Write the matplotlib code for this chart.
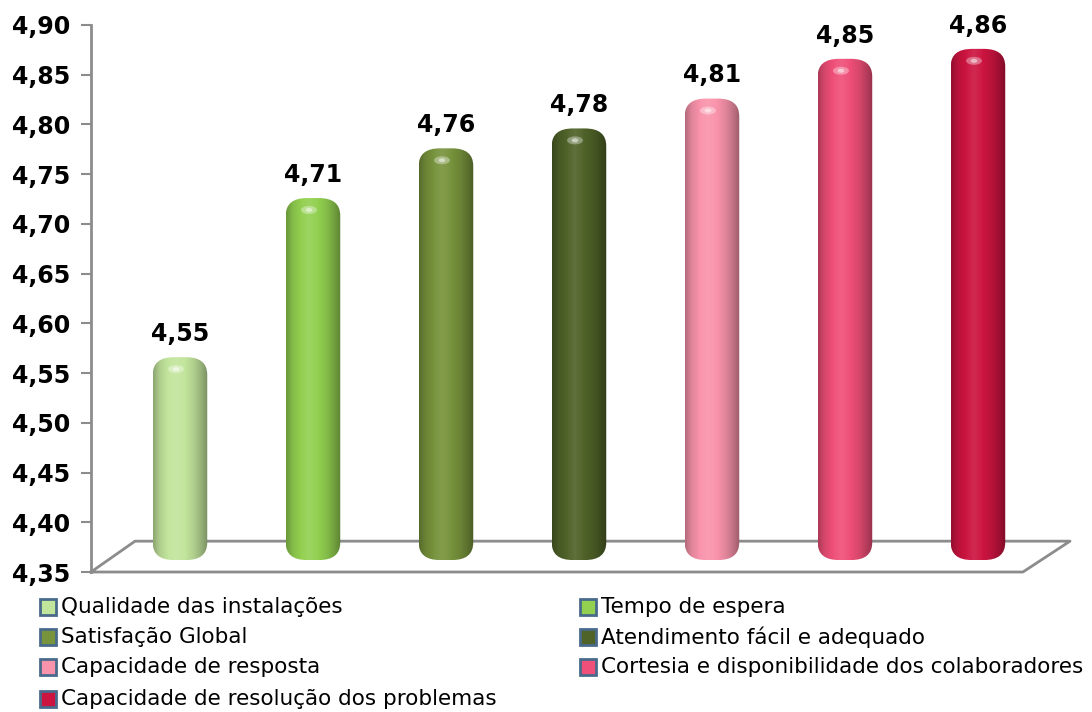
import numpy as np
import matplotlib
matplotlib.use('Agg')
import matplotlib.pyplot as plt
from matplotlib.patches import FancyBboxPatch, Rectangle, Ellipse
from matplotlib.colors import to_rgb

# data
categories = ['Qualidade das instalações', 'Tempo de espera', 'Satisfação Global',
              'Atendimento fácil e adequado', 'Capacidade de resposta',
              'Cortesia e disponibilidade dos colaboradores',
              'Capacidade de resolução dos problemas']
values = [4.55, 4.71, 4.76, 4.78, 4.81, 4.85, 4.86]
colors = ['#c2e59c', '#92d050', '#77933c', '#4f6228', '#f993ab', '#ef4f78', '#cc1440']
yticks = [4.35, 4.40, 4.45, 4.50, 4.55, 4.60, 4.65, 4.70, 4.75, 4.80, 4.85, 4.90]

W, H = 1092, 712
fig = plt.figure(figsize=(W / 100, H / 100), dpi=100)
ax = fig.add_axes([91 / W, (H - 572) / H, (1070 - 91) / W, (572 - 25) / H])
ax.set_xlim(-0.669, 6.692)
ax.set_ylim(4.35, 4.90)

grey = '#8c8c8c'
for s in ['top', 'right', 'bottom']:
    ax.spines[s].set_visible(False)
ax.spines['left'].set_color(grey)
ax.spines['left'].set_linewidth(2)
ax.set_xticks([])
ax.set_yticks(yticks)
ax.set_yticklabels([('%.2f' % v).replace('.', ',') for v in yticks],
                   fontsize=17, fontweight='bold')
ax.tick_params(axis='y', direction='out', length=7, width=1.5, color=grey, pad=8)

# floor
dy = 0.031
ax.plot([-0.669, 6.338, 6.692, -0.338, -0.669],
        [4.35, 4.35, 4.35 + dy, 4.35 + dy, 4.35],
        color=grey, lw=2, clip_on=False, zorder=1)

# cylinders
bw = 0.41
base = 4.362
pos = [0.0, 0.12, 0.3, 0.42, 0.55, 0.75, 0.9, 1.0]
shade = [0.72, 0.9, 1.02, 1.06, 1.02, 0.9, 0.75, 0.62]
xs = np.linspace(0, 1, 200)
prof = np.interp(xs, pos, shade)
for i, (v, c) in enumerate(zip(values, colors)):
    top = v + 0.016
    x0 = i - bw / 2
    patch = FancyBboxPatch((x0, base), bw, top - base,
                           boxstyle='round,pad=0,rounding_size=0.16',
                           mutation_aspect=0.11, fc='none', ec='none', zorder=3)
    ax.add_patch(patch)
    rgb = np.array(to_rgb(c))
    img = np.zeros((2, len(xs), 3))
    for k in range(len(xs)):
        f = prof[k]
        if f <= 1:
            col = rgb * f
        else:
            col = rgb + (1 - rgb) * (f - 1) * 1.5
        img[:, k] = np.clip(col, 0, 1)
    im = ax.imshow(img, extent=[x0, x0 + bw, base, top], aspect='auto',
                   interpolation='bilinear', zorder=3)
    im.set_clip_path(patch)
    # small shine on the cap
    ax.add_patch(Ellipse((i - 0.03, top - 0.012), 0.12, 0.008, fc='white',
                         ec='none', alpha=0.35, zorder=4))
    ax.add_patch(Ellipse((i - 0.03, top - 0.012), 0.05, 0.004, fc='white',
                         ec='none', alpha=0.5, zorder=4))
    ax.annotate(('%.2f' % v).replace('.', ','), (i, top), xytext=(0, 8),
                textcoords='offset points', ha='center', va='bottom',
                fontsize=17, fontweight='bold')

# legend
rows = [607, 637, 667, 699]
order = [(0, 0), (1, 0), (0, 1), (1, 1), (0, 2), (1, 2), (0, 3)]
colx = [40, 580]
for (col, row), name, c in zip(order, categories, colors):
    xp, yp = colx[col], rows[row]
    fig.add_artist(Rectangle((xp / W, (H - yp - 8) / H), 16 / W, 16 / H,
                             transform=fig.transFigure, fc=c, ec='#4a6a8c', lw=2))
    fig.text((xp + 21) / W, (H - yp) / H, name, fontsize=15.5, va='center', ha='left')

fig.savefig('out.png', dpi=100)
